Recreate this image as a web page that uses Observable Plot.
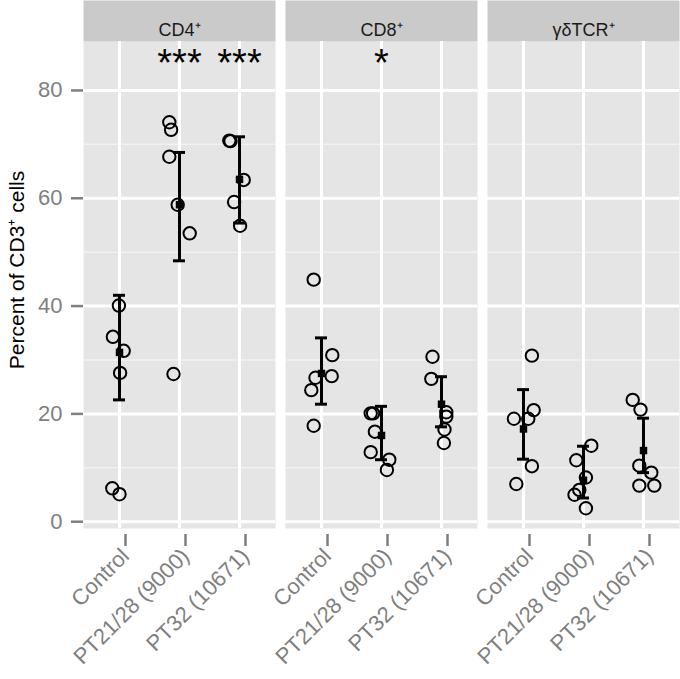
<!DOCTYPE html>
<html>
<head>
<meta charset="utf-8">
<script src="https://cdn.jsdelivr.net/npm/d3@7"></script>
<script src="https://cdn.jsdelivr.net/npm/@observablehq/plot@0.6"></script>
<style>
  html, body { margin: 0; padding: 0; background: white; }
</style>
</head>
<body>
<div id="chart"></div>
<script>
// ---- data ----
const panels = ["CD4⁺", "CD8⁺", "γδTCR⁺"];
const groups = ["Control", "PT21/28 (9000)", "PT32 (10671)"];
const yMajor = [0, 20, 40, 60, 80];
const yMinor = [10, 30, 50, 70];

// individual points (percent) per group, and their horizontal jitter (in category units)
const cd4Values = [[40.1, 34.3, 31.7, 27.6, 6.2, 5.1], [74.1, 72.7, 67.7, 58.8, 53.5, 27.4], [70.7, 70.6, 63.4, 59.3, 54.9]];
const cd4Jitter = [[-0.01, -0.11, 0.07, 0.01, -0.12, 0.0], [-0.17, -0.14, -0.17, -0.03, 0.17, -0.10], [-0.17, -0.15, 0.07, -0.09, 0.01]];
const cd8Values = [[44.9, 30.9, 27.0, 26.7, 24.4, 17.8], [20.1, 20.1, 16.7, 12.9, 11.5, 9.6], [30.6, 26.5, 20.3, 19.5, 17.1, 14.6]];
const cd8Jitter = [[-0.13, 0.18, 0.17, -0.10, -0.17, -0.13], [-0.18, -0.14, -0.11, -0.18, 0.13, 0.09], [-0.15, -0.17, 0.08, 0.08, 0.05, 0.04]];
const gdValues = [[30.8, 20.7, 19.1, 19.1, 10.3, 7.0], [14.1, 11.4, 8.2, 5.9, 5.0, 2.5], [22.6, 20.8, 10.4, 9.1, 6.7, 6.7]];
const gdJitter = [[0.14, 0.17, -0.16, 0.08, 0.14, -0.12], [0.13, -0.12, 0.04, -0.07, -0.15, 0.04], [-0.18, -0.05, -0.07, 0.13, -0.07, 0.18]];

// summary (mean and error bar limits) per panel, per group
const cd4Mean = [31.4, 58.8, 63.5], cd4Lo = [22.6, 48.4, 55.4], cd4Hi = [42.0, 68.5, 71.4];
const cd8Mean = [27.5, 16.0, 21.8], cd8Lo = [21.8, 11.5, 17.6], cd8Hi = [34.1, 21.4, 26.9];
const gdMean = [17.2, 7.7, 13.2], gdLo = [11.6, 4.4, 9.1], gdHi = [24.5, 14.0, 19.2];

// significance annotations
const starPanel = ["CD4⁺", "CD4⁺", "CD8⁺"];
const starGroup = [1, 2, 1];
const starLabel = ["***", "***", "*"];
const starY = [85, 85, 85];

// ---- build tables ----
const valuesByPanel = [cd4Values, cd8Values, gdValues];
const jitterByPanel = [cd4Jitter, cd8Jitter, gdJitter];
const meanByPanel = [cd4Mean, cd8Mean, gdMean];
const loByPanel = [cd4Lo, cd8Lo, gdLo];
const hiByPanel = [cd4Hi, cd8Hi, gdHi];

const points = [];
const summary = [];
panels.forEach((p, pi) => {
  groups.forEach((g, gi) => {
    valuesByPanel[pi][gi].forEach((v, k) => {
      points.push({panel: p, g: gi, x: gi + jitterByPanel[pi][gi][k], v});
    });
    summary.push({panel: p, g: gi, mean: meanByPanel[pi][gi], lo: loByPanel[pi][gi], hi: hiByPanel[pi][gi]});
  });
});
const stars = starPanel.map((p, i) => ({panel: p, g: starGroup[i], y: starY[i], label: starLabel[i]}));

const W = 680, H = 679, MT = 41, MB = 151, ML = 82, MR = 0;
const panelH = H - MT - MB;
const capHalf = 0.1;
const gridMajor = "#FFFFFF", gridMinor = "#F2F2F2", axisGrey = "#7F7F7F";

const chart = Plot.plot({
  width: W,
  height: H,
  marginTop: MT,
  marginBottom: MB,
  marginLeft: ML,
  marginRight: MR,
  style: {fontFamily: "'Liberation Sans', Arial, Helvetica, sans-serif", background: "white", color: axisGrey},
  fx: {domain: panels, axis: null, paddingInner: 0.05, paddingOuter: 0},
  x: {domain: [-0.6, 2.6], axis: null},
  y: {domain: [-1.26, 89.08], axis: null},
  marks: [
    // panel background and strip
    Plot.frame({fill: "#E5E5E5", stroke: null}),
    Plot.frame({fill: "#CACACA", stroke: null, insetTop: -MT, insetBottom: panelH}),
    Plot.text(panels, {fx: d => d, text: d => d, frameAnchor: "top", dy: -18.5, fontSize: 18, fill: "#1A1A1A"}),
    // grid
    Plot.ruleY(yMinor, {stroke: gridMinor, strokeWidth: 1.5}),
    Plot.ruleY(yMajor, {stroke: gridMajor, strokeWidth: 3}),
    Plot.ruleX([0, 1, 2], {stroke: gridMajor, strokeWidth: 3}),
    // axes
    Plot.axisY(yMajor, {tickSize: 12, tickPadding: 9, fontSize: 22, fill: axisGrey, stroke: axisGrey, strokeWidth: 2.5, label: null}),
    Plot.axisX([0, 1, 2], {tickFormat: i => groups[i], tickRotate: -45, tickSize: 12, tickPadding: 6, fontSize: 22, dx: 6, dy: 6, fill: axisGrey, stroke: axisGrey, strokeWidth: 2.5, label: null}),
    Plot.text(["Percent of CD3⁺ cells"], {fx: () => panels[0], text: d => d, frameAnchor: "left", textAnchor: "middle", rotate: -90, dx: -66, dy: -15, fontSize: 21, fill: "black"}),
    // data
    Plot.dot(points, {fx: "panel", x: "x", y: "v", r: 6.2, stroke: "black", strokeWidth: 2, fill: "none"}),
    Plot.ruleX(summary, {fx: "panel", x: "g", y1: "lo", y2: "hi", stroke: "black", strokeWidth: 3}),
    Plot.ruleY(summary, {fx: "panel", y: "lo", x1: d => d.g - capHalf, x2: d => d.g + capHalf, stroke: "black", strokeWidth: 3}),
    Plot.ruleY(summary, {fx: "panel", y: "hi", x1: d => d.g - capHalf, x2: d => d.g + capHalf, stroke: "black", strokeWidth: 3}),
    Plot.dot(summary, {fx: "panel", x: "g", y: "mean", symbol: "square", r: 4.2, fill: "black", stroke: null}),
    Plot.text(stars, {fx: "panel", x: "g", y: "y", text: "label", fontSize: 38, fill: "black"})
  ]
});
document.getElementById("chart").appendChild(chart);
</script>
</body>
</html>
